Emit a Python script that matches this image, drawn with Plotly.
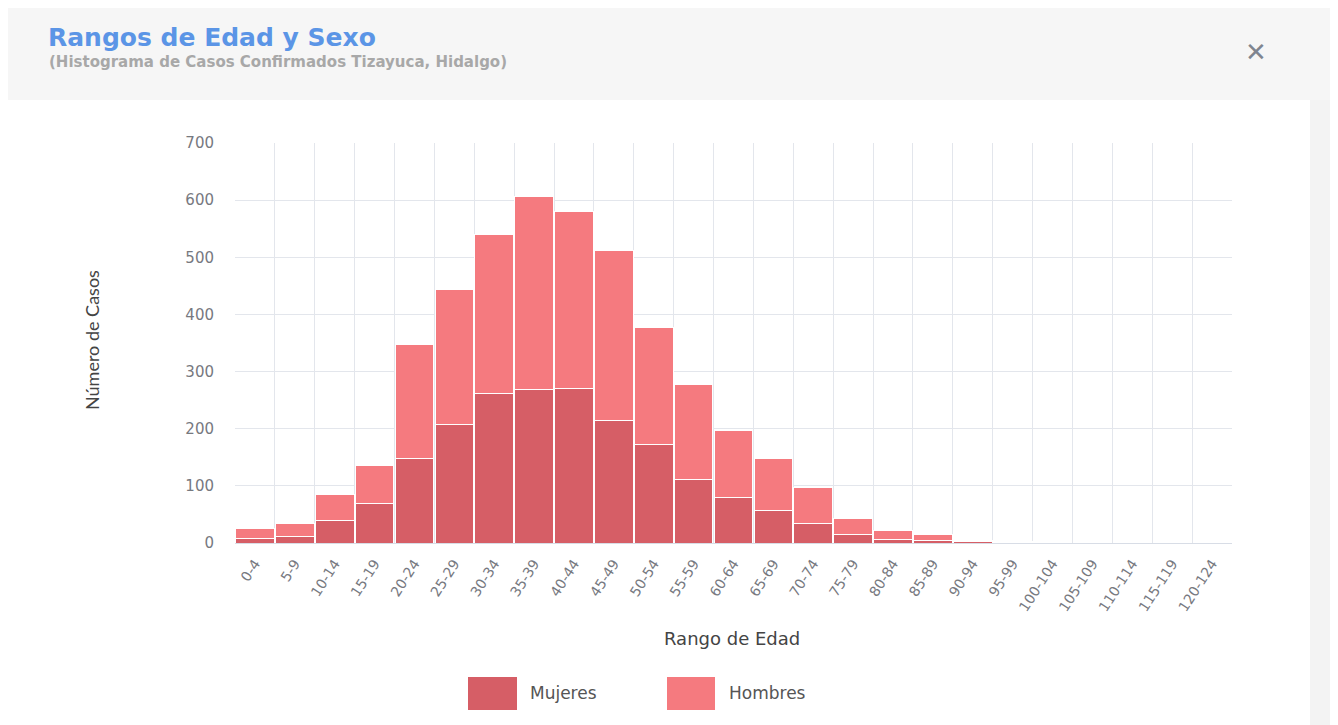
import plotly.graph_objects as go

# Age ranges and counts (stacked: Mujeres below, Hombres on top)
rangos = ["0-4", "5-9", "10-14", "15-19", "20-24", "25-29", "30-34", "35-39",
          "40-44", "45-49", "50-54", "55-59", "60-64", "65-69", "70-74",
          "75-79", "80-84", "85-89", "90-94", "95-99", "100-104", "105-109",
          "110-114", "115-119", "120-124"]
mujeres = [8, 12, 40, 70, 148, 207, 262, 268, 270, 215, 172, 112, 80, 57, 35,
           15, 6, 5, 2, 1, 0, 0, 0, 0, 0]
hombres = [17, 23, 45, 65, 199, 236, 278, 339, 310, 297, 205, 166, 117, 91, 62,
           28, 16, 10, 2, 1, 0, 0, 0, 0, 0]

COLOR_M = "#D65E66"
COLOR_H = "#F57A7F"
FONT = "'DejaVu Sans', sans-serif"

# the page body has an 8px margin, so the figure starts at (8, 8)
OFF = 8
PAGE_W, PAGE_H = 1338, 725
# plot area in page pixels
L, R, T, B = 235, 1232, 143, 543
W, H = R - L, B - T


def px(x):
    return (x - L) / W


def py(y):
    return (B - y) / H


fig = go.Figure()
fig.add_trace(go.Bar(x=rangos, y=mujeres, name="Mujeres",
                     marker=dict(color=COLOR_M, line=dict(color="white", width=1)),
                     showlegend=False))
fig.add_trace(go.Bar(x=rangos, y=hombres, name="Hombres",
                     marker=dict(color=COLOR_H, line=dict(color="white", width=1)),
                     showlegend=False))

shapes = [
    # faint grey header band and right edge, as in the screenshot
    dict(type="rect", xref="paper", yref="paper", x0=px(0), x1=px(PAGE_W),
         y0=py(100), y1=py(0), fillcolor="#F6F6F6", line=dict(width=0), layer="below"),
    dict(type="rect", xref="paper", yref="paper", x0=px(1310), x1=px(PAGE_W),
         y0=py(PAGE_H), y1=py(100), fillcolor="#F3F3F3", line=dict(width=0), layer="below"),
    # legend swatches
    dict(type="rect", xref="paper", yref="paper", x0=px(468), x1=px(517),
         y0=py(710), y1=py(677), fillcolor=COLOR_M, line=dict(width=0)),
    dict(type="rect", xref="paper", yref="paper", x0=px(667), x1=px(715),
         y0=py(710), y1=py(677), fillcolor=COLOR_H, line=dict(width=0)),
]

annotations = [
    dict(text="<b>Rangos de Edad y Sexo</b>", x=px(46), y=py(37), xref="paper", yref="paper",
         xanchor="left", yanchor="middle", showarrow=False,
         font=dict(family=FONT, size=25, color="#5B95E6")),
    dict(text="<b>(Histograma de Casos Confirmados Tizayuca, Hidalgo)</b>", x=px(47), y=py(62),
         xref="paper", yref="paper", xanchor="left", yanchor="middle", showarrow=False,
         font=dict(family=FONT, size=15, color="#A8A8A8")),
    dict(text="<b>✕</b>", x=px(1256), y=py(52), xref="paper", yref="paper",
         xanchor="center", yanchor="middle", showarrow=False,
         font=dict(family=FONT, size=26, color="#7F8590")),
    dict(text="Número de Casos", x=px(92), y=py(340), xref="paper", yref="paper",
         textangle=-90, xanchor="center", yanchor="middle", showarrow=False,
         font=dict(family="Lato, sans-serif", size=18, color="#444444")),
    dict(text="Rango de Edad", x=px(732), y=py(638), xref="paper", yref="paper",
         xanchor="center", yanchor="middle", showarrow=False,
         font=dict(family=FONT, size=18, color="#444444")),
    dict(text="Mujeres", x=px(528), y=py(693), xref="paper", yref="paper",
         xanchor="left", yanchor="middle", showarrow=False,
         font=dict(family=FONT, size=17, color="#555555")),
    dict(text="Hombres", x=px(727), y=py(693), xref="paper", yref="paper",
         xanchor="left", yanchor="middle", showarrow=False,
         font=dict(family=FONT, size=17, color="#555555")),
]

fig.update_layout(
    width=PAGE_W - OFF, height=PAGE_H - OFF,
    margin=dict(l=L - OFF, r=PAGE_W - R, t=T - OFF, b=PAGE_H - B, autoexpand=False),
    barmode="stack", bargap=0.03,
    paper_bgcolor="white", plot_bgcolor="white",
    font=dict(family=FONT, color="#666666"),
    shapes=shapes, annotations=annotations,
)
fig.update_xaxes(
    type="category", tickson="boundaries", tickangle=-57,
    showgrid=True, gridcolor="#E3E6EC", gridwidth=1,
    ticks="", ticklabelstandoff=6, tickfont=dict(size=14, color="#77797F"),
    showline=True, linecolor="#D8DDE6",
)
fig.update_yaxes(
    range=[0, 700], dtick=100, showgrid=True, gridcolor="#E3E6EC",
    zeroline=False, ticks="", ticklabelstandoff=20,
    tickfont=dict(size=15, color="#77797F"),
)

fig.write_html("out.html")
